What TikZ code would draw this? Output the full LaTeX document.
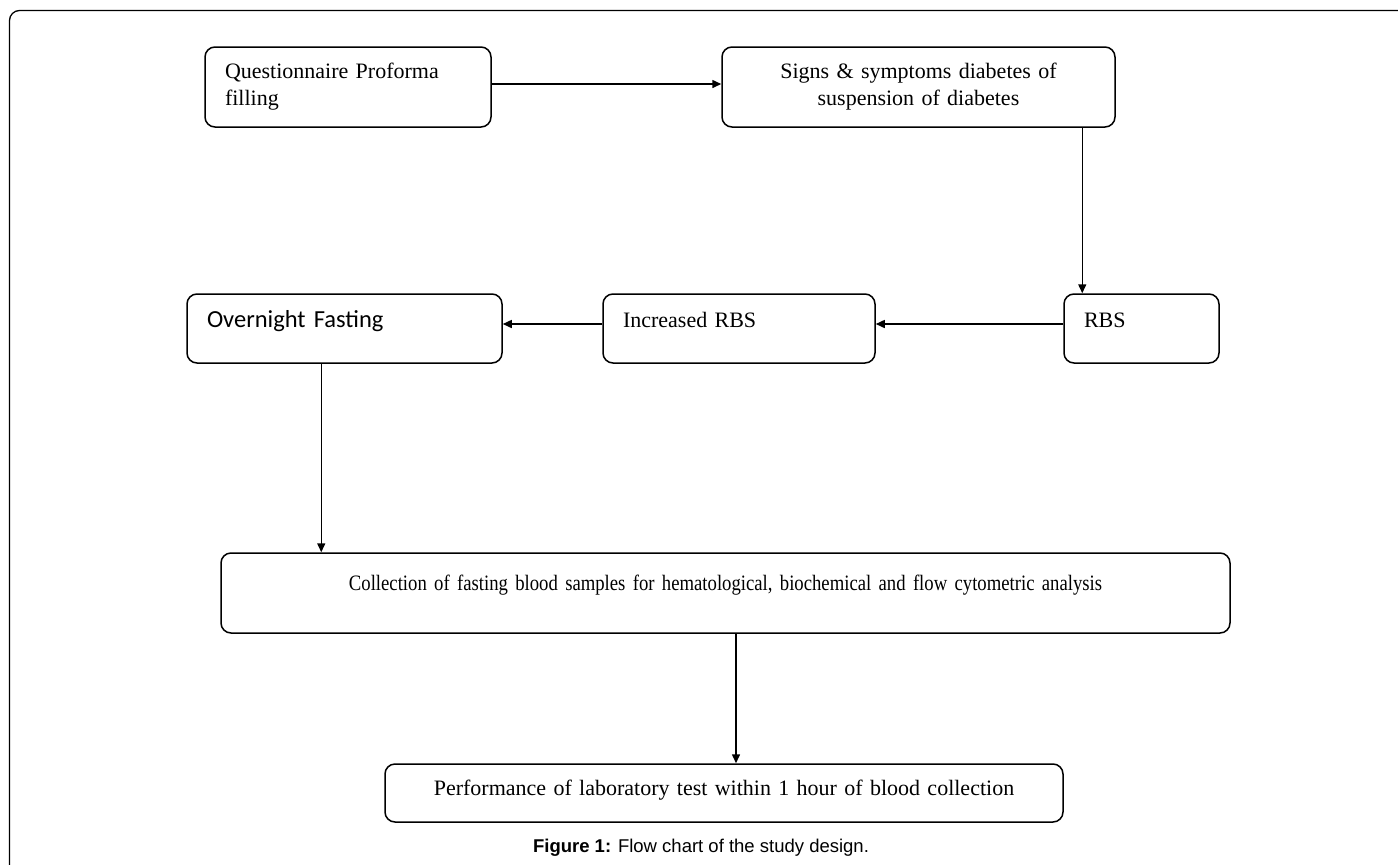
\documentclass[tikz,border=0pt]{standalone}
\usepackage{fontspec}
\setmainfont{Liberation Serif}
\newfontfamily\carlito{Carlito}
\newfontfamily\arialfont{Liberation Sans}
\newfontfamily\narrowserif[FakeStretch=0.85]{Liberation Serif}
\usetikzlibrary{arrows.meta,positioning,calc}

\begin{document}
\begin{tikzpicture}[x=1pt, y=-1pt,
            flow box/.style={draw, rounded corners=10pt, line width=1.5pt, inner xsep=20pt, inner ysep=0pt,
                align=left, font=\fontsize{22}{27}\selectfont},
            one line/.style={text height=15pt, text depth=#1},
            flow arrow/.style={line width=1.5pt, -{Triangle[length=9pt,width=8pt]}}]

            \useasboundingbox (0,0) rectangle (1398,865);
            \draw[line width=1.3pt, rounded corners=10pt] (9.5,865) -- (9.5,10.5) -- (1398,10.5);

            \node[flow box, text width=246pt, minimum height=80pt] (quest) at (348,87) {Questionnaire Proforma\\filling};
            \node[flow box, align=center, text width=353pt, minimum height=80pt] (signs) at (918.5,87) {Signs \& symptoms diabetes of\\suspension of diabetes};
            \node[flow box, text width=115pt, minimum height=69pt, one line=17pt] (rbs) at (1141.5,328.5) {RBS};
            \node[flow box, text width=232pt, minimum height=69pt, one line=17pt] (incr) at (739,328.5) {Increased RBS};
            \node[flow box, text width=275pt, minimum height=69pt, one line=17pt,
                font=\carlito\fontsize{24.5}{29}\selectfont] (fast) at (344.5,328.5) {Overnight Fasting};
            \node[flow box, align=center, text width=969pt, minimum height=80pt, one line=20pt,
                font=\narrowserif\fontsize{22}{27}\selectfont] (coll) at (725.5,593) {Collection of fasting blood samples for hematological, biochemical and flow cytometric analysis};
            \node[flow box, align=center, text width=638pt, minimum height=58pt, one line=10pt] (perf) at (724,793) {Performance of laboratory test within 1 hour of blood collection};

            \node[font=\arialfont\fontsize{18.5}{22}\selectfont] (caption) at (701,848) {\textbf{Figure 1:} Flow chart of the study design.};

            \draw[flow arrow] ([yshift=3pt]quest.east) -- ([yshift=3pt]signs.west);
            \draw[flow arrow] ([xshift=19pt]rbs.north west |- signs.south) -- ([xshift=19pt]rbs.north west);
            \draw[flow arrow] ([yshift=4.5pt]rbs.west) -- ([yshift=4.5pt]incr.east);
            \draw[flow arrow] ([yshift=4.5pt]incr.west) -- ([yshift=4.5pt]fast.east);
            \draw[flow arrow] ([xshift=135pt]fast.south west) -- ([xshift=135pt]fast.south west |- coll.north);
            \draw[flow arrow] ([xshift=10.5pt]coll.south) -- ([xshift=10.5pt]coll.south |- perf.north);

        \end{tikzpicture}
\end{document}
